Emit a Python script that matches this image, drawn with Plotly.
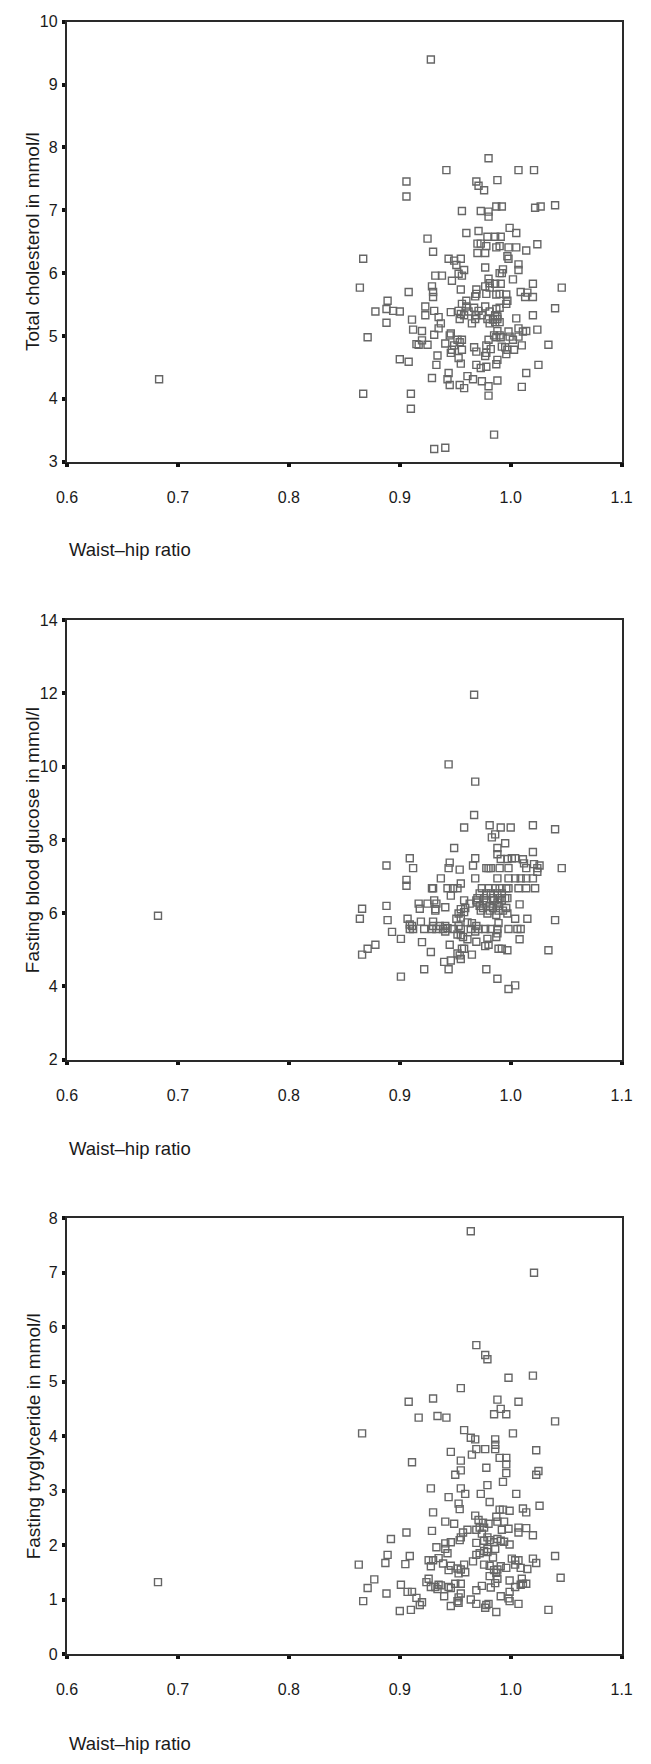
import plotly.graph_objects as go

# ---------------- Data ----------------
# Panel 1: waist-hip ratio vs total cholesterol (mmol/l)
whr_chol = [0.928,0.980,0.942,1.007,1.021,0.906,0.969,0.988,0.971,0.976,0.906,0.956,0.973,0.980,0.980,0.987,0.992,1.022,1.027,1.040,
 0.960,0.971,0.999,1.005,0.925,0.979,0.986,0.991,0.970,0.973,0.978,0.987,0.990,0.998,1.005,1.024,0.930,0.970,0.977,1.014,
 0.997,0.998,0.867,0.944,0.949,0.955,0.951,1.007,0.977,0.958,0.993,1.007,0.932,0.938,0.953,0.956,0.990,0.992,1.002,0.947,
 0.980,0.981,0.864,0.929,0.955,0.969,0.977,0.981,0.986,0.991,1.020,1.046,0.908,0.930,0.969,0.968,0.978,0.987,0.990,0.996,
 1.009,1.013,1.015,1.020,0.930,0.889,0.960,0.956,0.997,0.996,0.960,0.967,0.923,0.977,0.987,0.990,1.040,0.888,0.894,0.878,
 0.900,0.931,0.946,0.953,0.962,0.971,0.981,0.923,0.935,0.955,0.958,0.969,0.974,0.986,0.988,1.005,1.020,0.911,0.954,0.968,
 0.979,0.984,0.988,0.990,0.937,0.888,0.965,0.981,0.986,0.912,0.920,0.935,0.946,0.988,1.007,1.011,1.014,1.024,0.998,0.871,
 0.931,0.945,0.985,0.990,0.987,0.991,0.999,1.007,0.920,0.952,0.956,0.980,1.002,0.917,0.925,0.941,0.915,0.949,0.954,0.978,
 1.034,1.010,0.992,0.967,0.995,0.947,0.956,0.969,0.982,0.997,1.003,0.946,0.978,0.996,0.977,0.934,0.953,0.900,0.908,0.988,
 0.955,0.933,0.969,0.987,1.025,0.973,0.978,0.944,1.014,0.929,0.961,0.943,0.966,0.974,0.988,0.683,0.945,0.954,0.958,0.980,
 1.010,0.867,0.910,0.980,0.910,0.985,0.931,0.941]
cholesterol = [9.40,7.83,7.64,7.64,7.64,7.46,7.46,7.48,7.39,7.32,7.22,6.99,6.99,6.98,6.90,7.06,7.06,7.04,7.06,7.08,
 6.64,6.67,6.72,6.64,6.55,6.58,6.58,6.58,6.47,6.47,6.43,6.41,6.43,6.41,6.41,6.46,6.34,6.32,6.32,6.36,
 6.27,6.23,6.23,6.23,6.20,6.23,6.13,6.14,6.09,6.05,6.06,6.05,5.96,5.96,5.99,5.96,6.00,6.00,5.90,5.88,
 5.91,5.84,5.77,5.79,5.74,5.74,5.79,5.77,5.83,5.83,5.83,5.77,5.70,5.70,5.67,5.63,5.67,5.66,5.67,5.66,
 5.70,5.62,5.69,5.62,5.62,5.56,5.56,5.51,5.56,5.51,5.47,5.45,5.47,5.47,5.43,5.45,5.44,5.43,5.40,5.39,
 5.39,5.40,5.38,5.40,5.39,5.40,5.39,5.33,5.30,5.35,5.33,5.33,5.33,5.33,5.31,5.28,5.33,5.26,5.27,5.27,
 5.27,5.26,5.27,5.22,5.20,5.21,5.20,5.20,5.22,5.10,5.08,5.12,5.04,5.08,5.12,5.07,5.08,5.10,5.07,4.98,
 5.02,5.01,5.01,5.01,4.98,4.98,4.99,4.99,4.93,4.94,4.94,4.94,4.94,4.86,4.86,4.88,4.87,4.85,4.90,4.85,
 4.86,4.85,4.83,4.82,4.82,4.78,4.78,4.75,4.79,4.78,4.78,4.73,4.73,4.71,4.68,4.69,4.65,4.63,4.59,4.62,
 4.56,4.54,4.54,4.55,4.54,4.49,4.51,4.41,4.41,4.33,4.36,4.31,4.31,4.28,4.29,4.31,4.22,4.22,4.17,4.20,
 4.19,4.08,4.08,4.05,3.84,3.43,3.20,3.22]

# Panel 2: waist-hip ratio vs fasting blood glucose (mmol/l)
whr_gluc = [0.682,0.967,0.944,0.968,0.967,0.958,0.981,0.991,1.000,1.020,1.040,0.983,0.986,0.995,0.949,0.988,1.020,0.988,0.909,0.968,
 0.991,0.997,1.001,1.004,1.011,0.945,1.012,0.888,0.966,1.021,1.026,0.912,0.944,0.978,0.980,0.982,0.990,0.998,1.014,1.024,
 1.046,0.954,1.024,0.906,0.937,0.968,0.988,0.998,1.004,1.009,1.014,1.020,0.955,0.906,0.929,0.930,0.943,0.948,0.952,0.974,
 0.980,0.986,0.990,0.996,0.998,1.007,1.014,1.022,0.972,0.978,0.982,0.988,0.992,0.946,0.970,0.976,0.984,0.989,0.995,0.997,
 0.931,0.958,0.969,0.978,0.985,0.992,0.970,0.978,0.988,0.917,0.925,0.933,1.008,0.963,0.972,0.981,0.989,0.888,0.941,0.959,
 0.975,0.984,0.996,0.918,0.932,0.866,0.955,0.973,0.981,0.989,0.993,0.932,0.958,0.953,0.979,0.997,0.987,0.955,0.864,0.907,
 0.951,1.004,1.015,0.889,1.040,0.919,0.930,0.961,0.965,0.989,0.909,0.911,0.930,0.936,0.941,0.953,0.969,0.943,0.909,0.912,
 0.922,0.929,0.933,0.939,0.948,0.955,0.964,0.971,0.977,0.982,0.988,0.998,1.006,1.009,0.941,0.968,0.893,0.952,0.955,0.988,
 0.957,0.987,0.901,0.961,1.008,0.979,0.969,0.920,0.878,0.945,0.980,0.977,0.871,0.956,0.958,0.989,0.992,0.997,1.034,0.928,
 0.866,0.952,0.954,0.965,0.955,0.940,0.946,0.922,0.944,0.978,0.901,0.988,1.004,0.998]
glucose = [5.93,11.96,10.06,9.59,8.68,8.34,8.40,8.34,8.34,8.40,8.29,8.07,8.15,7.91,7.78,7.78,7.67,7.61,7.50,7.50,
 7.48,7.48,7.50,7.50,7.47,7.38,7.36,7.30,7.30,7.34,7.30,7.23,7.23,7.23,7.23,7.23,7.23,7.23,7.23,7.23,
 7.23,7.19,7.13,6.91,6.95,6.95,6.95,6.95,6.95,6.95,6.95,6.95,6.81,6.75,6.68,6.68,6.68,6.68,6.68,6.68,
 6.68,6.68,6.68,6.68,6.68,6.68,6.68,6.68,6.54,6.54,6.54,6.54,6.54,6.48,6.41,6.41,6.41,6.41,6.41,6.41,
 6.35,6.35,6.35,6.35,6.35,6.35,6.29,6.29,6.29,6.26,6.26,6.26,6.24,6.26,6.20,6.20,6.20,6.20,6.16,6.14,
 6.14,6.14,6.14,6.12,6.11,6.12,6.11,6.07,6.07,6.07,6.07,6.07,6.03,5.99,5.99,5.99,5.95,5.88,5.85,5.85,
 5.85,5.85,5.85,5.81,5.81,5.77,5.77,5.75,5.73,5.73,5.69,5.65,5.65,5.65,5.65,5.65,5.65,5.59,5.57,5.57,
 5.57,5.57,5.57,5.57,5.57,5.57,5.57,5.57,5.57,5.57,5.57,5.57,5.57,5.57,5.50,5.50,5.49,5.42,5.40,5.45,
 5.35,5.35,5.30,5.29,5.29,5.30,5.22,5.21,5.14,5.14,5.14,5.10,5.03,5.03,5.03,5.03,5.03,4.99,4.99,4.94,
 4.87,4.90,4.85,4.87,4.75,4.67,4.71,4.47,4.47,4.47,4.27,4.21,4.03,3.93]

# Panel 3: waist-hip ratio vs fasting triglyceride (mmol/l)
whr_trig = [0.682,0.964,1.021,0.969,0.977,0.979,0.998,1.020,0.955,0.908,0.930,0.988,1.007,0.991,0.917,0.934,0.942,0.985,0.996,1.040,
 0.866,0.958,1.002,0.964,0.968,0.986,0.986,0.946,0.969,0.977,0.986,1.023,0.965,0.990,0.996,0.955,0.911,0.996,0.978,0.955,
 0.996,1.025,0.950,1.023,0.993,0.979,0.928,0.955,0.959,0.973,1.005,0.944,0.981,0.953,1.026,0.954,0.990,0.993,1.011,0.999,
 0.930,1.014,0.968,0.987,0.971,0.941,0.988,0.994,0.975,0.949,0.980,0.972,0.976,1.007,1.014,0.998,0.961,0.969,0.992,0.929,
 0.957,0.906,1.007,0.974,1.020,0.979,0.955,0.981,0.892,0.988,0.954,0.976,0.991,0.994,0.946,0.969,0.941,0.985,0.999,0.933,
 0.941,0.979,0.986,0.976,0.943,0.979,0.972,0.969,0.889,0.909,1.040,0.984,0.935,0.930,0.926,1.001,1.007,1.020,0.966,1.004,
 1.023,0.939,0.928,0.863,0.887,0.905,0.946,0.958,0.976,0.981,0.991,0.996,1.004,1.009,0.952,1.015,0.944,0.955,0.985,0.988,
 0.953,0.959,0.987,0.981,1.045,0.877,0.926,0.988,0.999,1.010,0.924,1.011,1.014,0.950,0.955,0.986,0.901,0.935,1.009,0.928,
 0.932,0.937,0.974,0.944,1.004,0.982,0.871,0.934,0.946,0.969,0.907,0.911,0.999,0.888,0.955,0.940,0.991,0.953,0.915,0.998,
 0.964,0.867,0.952,0.999,0.920,0.953,0.969,0.980,1.007,0.918,0.978,0.946,0.977,0.910,0.900,1.034,0.987]
triglyceride = [1.32,7.76,7.00,5.67,5.49,5.41,5.07,5.11,4.88,4.63,4.69,4.67,4.63,4.50,4.34,4.37,4.34,4.40,4.40,4.27,
 4.05,4.11,4.05,3.97,3.94,3.94,3.84,3.71,3.76,3.76,3.76,3.74,3.66,3.60,3.60,3.55,3.52,3.48,3.42,3.37,
 3.32,3.36,3.29,3.29,3.16,3.10,3.04,3.04,2.94,2.94,2.94,2.88,2.79,2.76,2.72,2.66,2.65,2.65,2.67,2.63,
 2.60,2.60,2.54,2.52,2.46,2.43,2.43,2.43,2.41,2.39,2.39,2.32,2.32,2.32,2.31,2.30,2.28,2.28,2.28,2.26,
 2.23,2.23,2.23,2.21,2.18,2.14,2.14,2.09,2.11,2.11,2.09,2.08,2.08,2.06,2.05,2.04,2.03,2.05,2.01,1.96,
 1.93,1.93,1.93,1.89,1.85,1.87,1.85,1.82,1.82,1.80,1.80,1.77,1.76,1.72,1.72,1.75,1.72,1.75,1.70,1.72,
 1.67,1.66,1.61,1.64,1.67,1.65,1.62,1.64,1.64,1.62,1.61,1.58,1.64,1.58,1.57,1.56,1.54,1.55,1.54,1.55,
 1.48,1.50,1.49,1.43,1.40,1.37,1.38,1.38,1.35,1.38,1.32,1.29,1.29,1.29,1.29,1.30,1.27,1.27,1.27,1.23,
 1.23,1.26,1.25,1.23,1.23,1.22,1.21,1.19,1.21,1.17,1.14,1.14,1.14,1.11,1.11,1.06,1.06,1.04,1.03,1.02,
 1.00,0.97,0.97,0.97,0.95,0.94,0.92,0.92,0.92,0.90,0.90,0.88,0.85,0.81,0.79,0.81,0.77]

x_tickvals = [0.6, 0.7, 0.8, 0.9, 1.0, 1.1]
x_ticktext = ["0.6", "0.7", "0.8", "0.9", "1.0", "1.1"]
x_title = "Waist\u2013hip ratio"
y_titles = ["Total cholesterol in mmol/l", "Fasting blood glucose in mmol/l", "Fasting tryglyceride in mmol/l"]
y_ranges = [[3, 10], [2, 14], [0, 8]]
y_dticks = [1, 2, 1]

# ---------------- Layout geometry (pixels) ----------------
W, H = 651, 1764
plot_left, plot_right = 58, 632
panels_px = [(14, 458), (618, 1062), (1222, 1662)]   # (top, bottom)
xtitle_px = [547, 1152, 1752]

def py(p):
    return 1 - p / H

fig = go.Figure()
series = [(whr_chol, cholesterol), (whr_gluc, glucose), (whr_trig, triglyceride)]
axis_color = "#2a2a2a"
font_family = "Liberation Sans, Arial, sans-serif"
annotations = []
for i, (xs, ys) in enumerate(series):
    n = "" if i == 0 else str(i + 1)
    fig.add_trace(go.Scatter(
        x=xs, y=ys, mode="markers", xaxis="x" + n, yaxis="y" + n,
        marker=dict(symbol="square-open", size=7, color="#666666", line=dict(width=1.4, color="#666666")),
        showlegend=False, hoverinfo="x+y"))
    top, bot = panels_px[i]
    common_line = dict(showline=True, linecolor=axis_color, linewidth=1.6, mirror=True,
                       showgrid=False, zeroline=False, ticks="outside", tickcolor="#111",
                       tickwidth=3.5, ticklen=3.5,
                       tickfont=dict(family=font_family, size=16, color="#1a1a1a"))
    fig.update_layout(**{
        "xaxis" + n: dict(domain=[plot_left / W, plot_right / W], range=[0.6, 1.1],
                          tickvals=x_tickvals, ticktext=x_ticktext, anchor="y" + n,
                          ticklabelstandoff=17, **common_line),
        "yaxis" + n: dict(domain=[py(bot), py(top)], range=y_ranges[i], dtick=y_dticks[i],
                          tick0=y_ranges[i][0], anchor="x" + n, ticklabelstandoff=1, **common_line),
    })
    annotations.append(dict(text=y_titles[i], textangle=-90, xref="paper", yref="paper",
                            x=23 / W, y=py((top + bot) / 2), xanchor="center", yanchor="middle",
                            showarrow=False, font=dict(family=font_family, size=19, color="#1a1a1a")))
    annotations.append(dict(text=x_title, xref="paper", yref="paper",
                            x=plot_left / W, y=py(xtitle_px[i]), xanchor="left", yanchor="middle",
                            showarrow=False, font=dict(family=font_family, size=18.5, color="#1a1a1a")))

fig.update_layout(width=W, height=H, margin=dict(l=0, r=0, t=0, b=0),
                  paper_bgcolor="white", plot_bgcolor="white", annotations=annotations)
fig.write_html("out.html", config={"displayModeBar": False},
               post_script="document.body.style.margin='0px';")
